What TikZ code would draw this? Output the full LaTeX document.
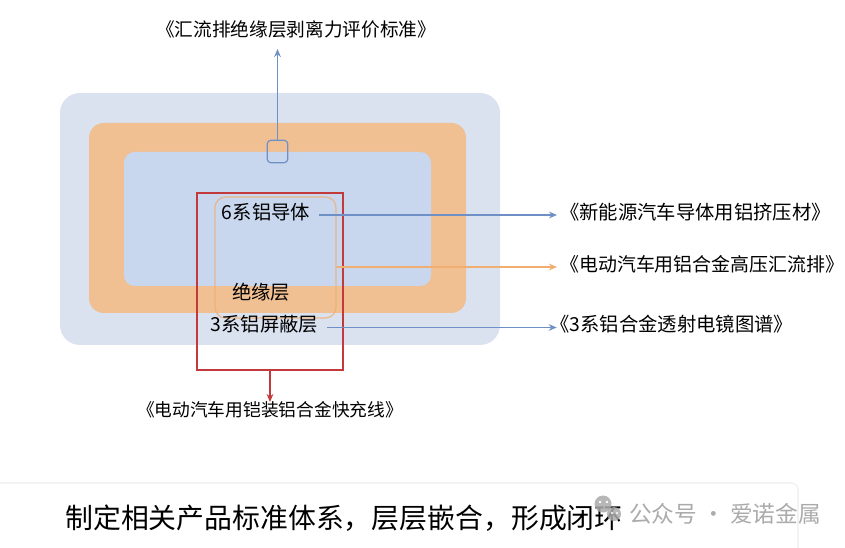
\documentclass[tikz,border=0pt]{standalone}
\usepackage{fontspec}
\newfontfamily\cjk{Noto Sans CJK SC}
\usetikzlibrary{arrows.meta}
\definecolor{outerblue}{HTML}{DAE2F0}
\definecolor{orangefill}{HTML}{F0C093}
\definecolor{innerblue}{HTML}{C8D6EE}
\definecolor{blueline}{HTML}{6F90C6}
\definecolor{orangeline}{HTML}{F0AE70}
\definecolor{redline}{HTML}{C23A3C}
\definecolor{cardline}{HTML}{EDEDED}
\definecolor{wmgray}{HTML}{ABABAB}
\tikzset{
  lbl/.style={font=\cjk\fontsize{14.5pt}{16pt}\selectfont, inner sep=0pt, text height=0.8em, text depth=0.15em},
  tip/.style={-{Stealth[length=6pt,width=5pt]}},
}
\begin{document}
\begin{tikzpicture}[x=0.75pt,y=-0.75pt]
\useasboundingbox (0,0) rectangle (845,548);
\fill[white] (0,0) rectangle (845,548);
% bottom card
\draw[cardline, line width=0.8pt, rounded corners=5pt] (0,483) -- (798,483) -- (798,548);
% layers
\fill[outerblue, rounded corners=15pt] (60,93) rectangle (500,345);
\fill[orangefill, rounded corners=11pt] (89,123) rectangle (466,313);
\fill[innerblue, rounded corners=8pt] (124,152) rectangle (431,286);
% small square
\node[draw=blueline, line width=0.9pt, rounded corners=3pt, minimum width=15.5pt, minimum height=17pt, inner sep=0pt] (sq) at (277.5,151.5) {};
% orange insulation box
\node[draw=orangeline, draw opacity=0.8, line width=0.9pt, rounded corners=8pt, minimum width=90.75pt, minimum height=90.75pt, inner sep=0pt] (ins) at (275.5,257.5) {};
% red box
\node[draw=redline, line width=0.9pt, minimum width=109.5pt, minimum height=132.75pt, inner sep=0pt] (red) at (270,281.5) {};
% inner texts
\node[lbl] (cond) at (266,215) {6系铝导体};
\node[lbl] (insl) at (261,295) {绝缘层};
\node[lbl] (shield) at (264.5,327.5) {3系铝屏蔽层};
% outside labels
\node[lbl, font=\cjk\fontsize{14pt}{16pt}\selectfont] (top) at (296,32) {《汇流排绝缘层剥离力评价标准》};
\node[lbl, anchor=west] (l1) at (560,215) {《新能源汽车导体用铝挤压材》};
\node[lbl, anchor=west, font=\cjk\fontsize{14.2pt}{16pt}\selectfont] (l2) at (560,267) {《电动汽车用铝合金高压汇流排》};
\node[lbl, anchor=west] (l3) at (550,327.5) {《3系铝合金透射电镜图谱》};
\node[lbl, font=\cjk\fontsize{13.3pt}{16pt}\selectfont] (bot) at (270,412) {《电动汽车用铠装铝合金快充线》};
% connectors
\draw[blueline, line width=0.9pt, tip] (sq.north) -- (sq.north |- 0,49);
\draw[blueline, line width=0.9pt, tip] ([xshift=6.5pt]cond.east) -- ([xshift=-2.25pt]l1.west);
\draw[orangeline, line width=0.9pt, tip] (ins.east |- l2.west) -- ([xshift=-2.25pt]l2.west);
\draw[blueline, line width=0.9pt, tip] ([xshift=6.5pt]shield.east) -- ([xshift=5pt]l3.west);
\draw[redline, line width=0.9pt, tip] (red.south) -- (270,402);
% caption
\node[font=\cjk\fontsize{20.9pt}{24pt}\selectfont, anchor=west, inner sep=0pt] (cap) at (65,518) {制定相关产品标准体系，层层嵌合，形成闭环};
% watermark
\fill[wmgray, opacity=0.85] (603,504) circle (8.5);
\fill[wmgray, opacity=0.85] (614,514) circle (7);
\fill[white] (600,502) circle (1.3) (607,502) circle (1.3) (612,513) circle (1.1) (617,513) circle (1.1);
\node[font=\cjk\fontsize{17pt}{20pt}\selectfont, text=wmgray, anchor=west, inner sep=0pt] (wm) at (629,514) {公众号 · 爱诺金属};
\end{tikzpicture}
\end{document}
